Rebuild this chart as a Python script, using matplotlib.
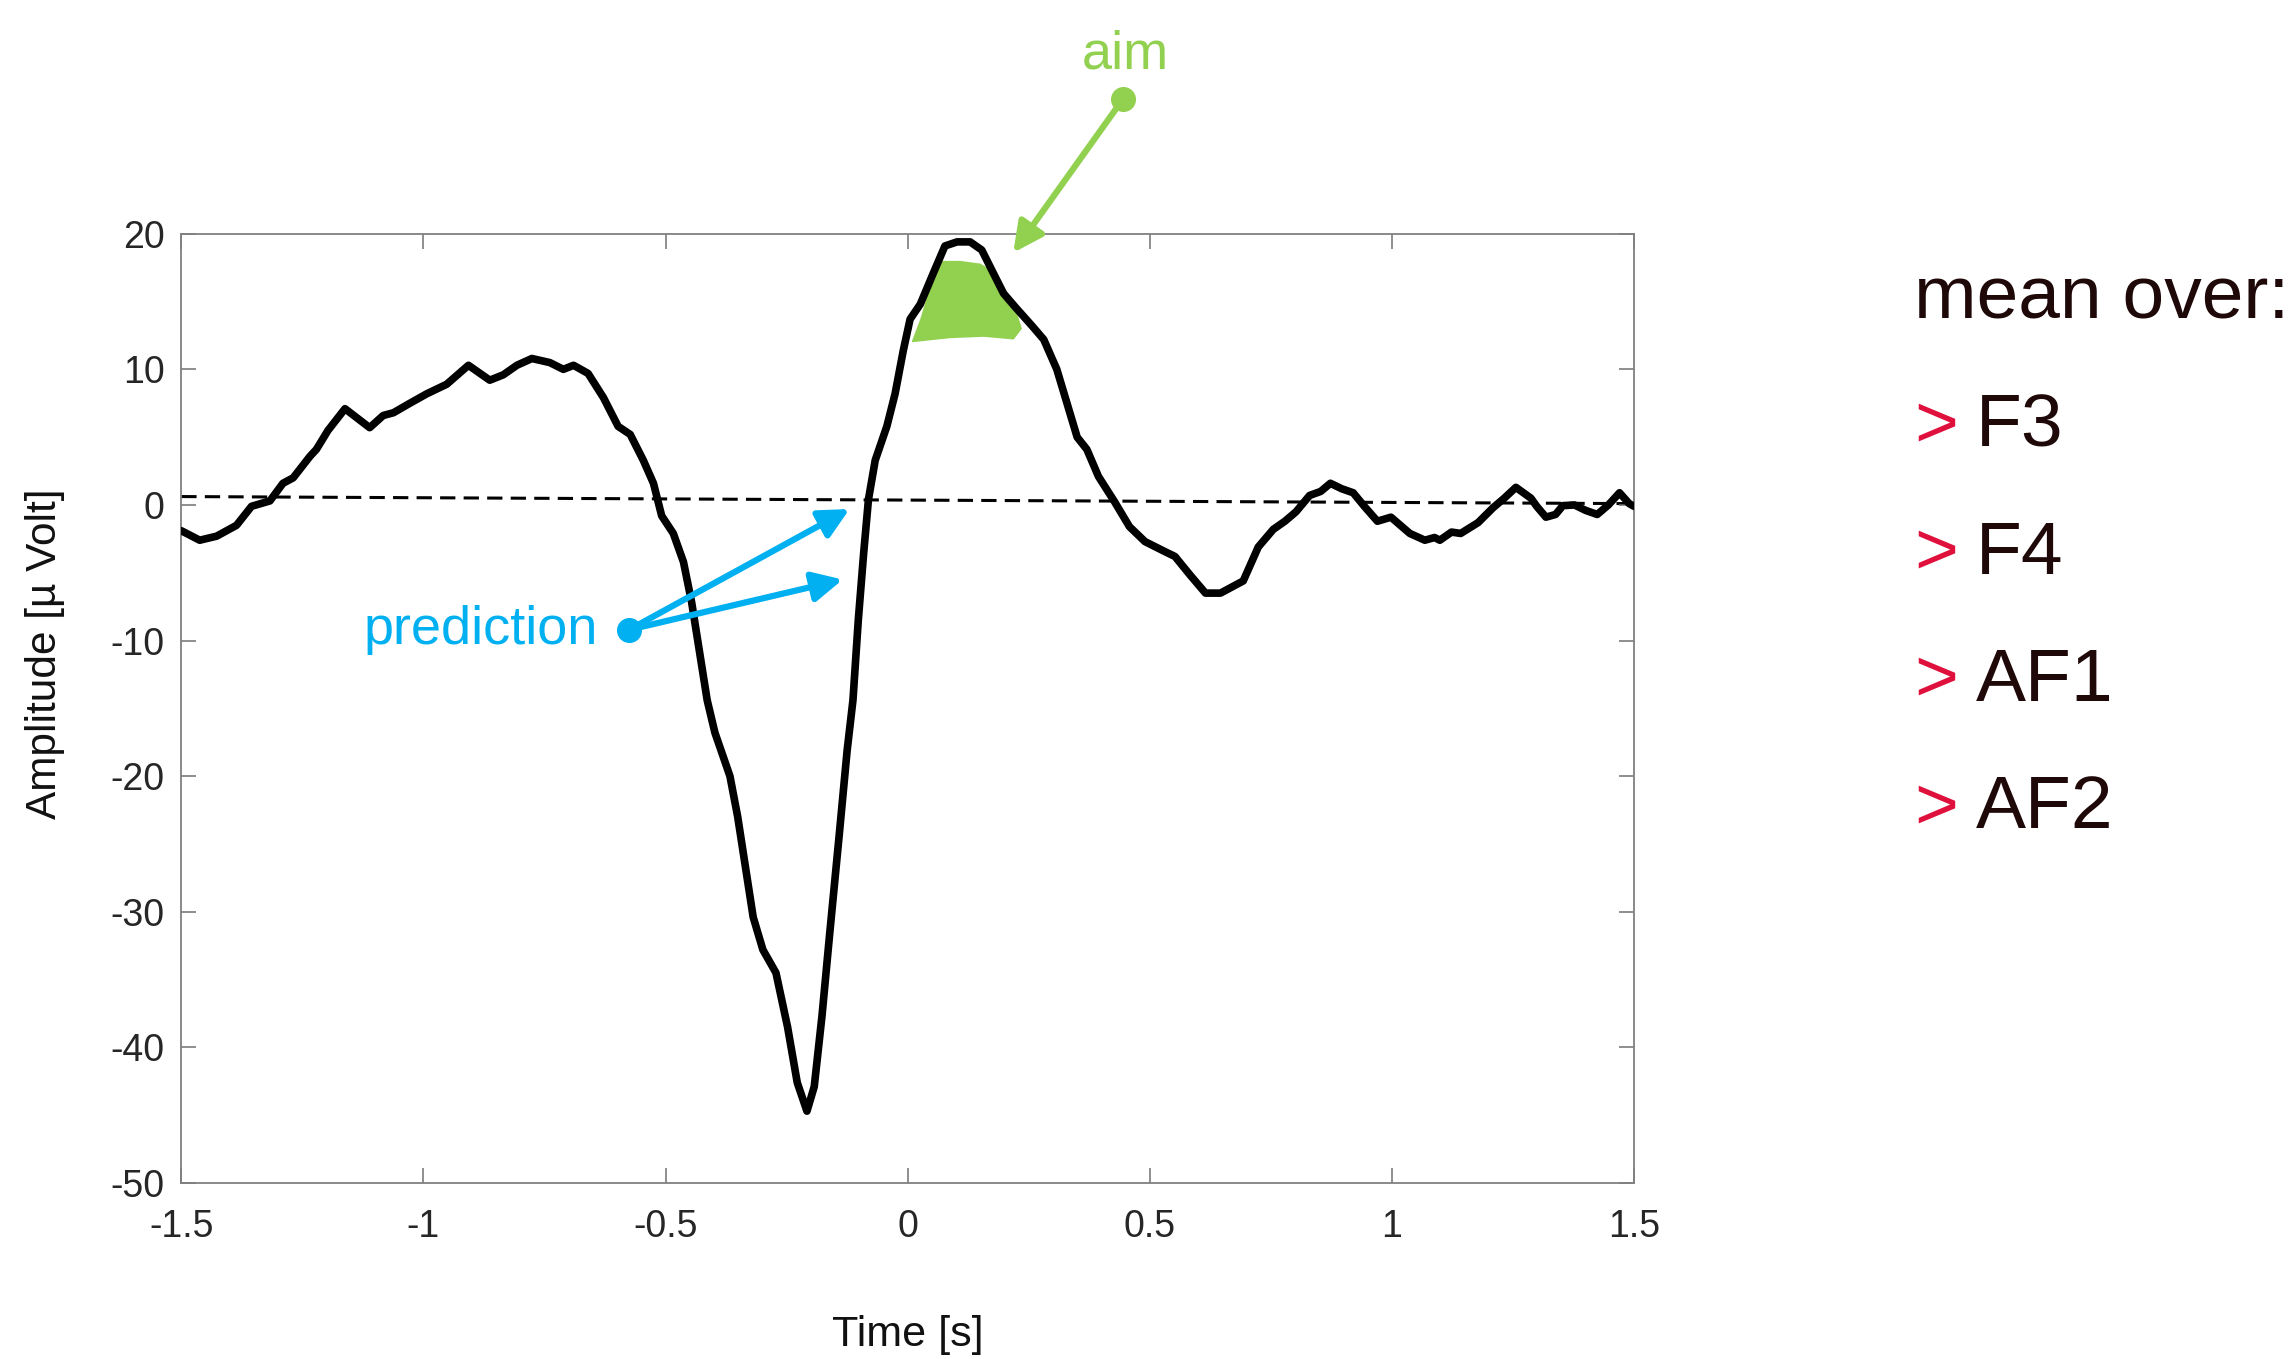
import numpy as np
import matplotlib
matplotlib.use("Agg")
import matplotlib.pyplot as plt

plt.rcParams["axes.unicode_minus"] = False

# mean ERP trace (time in s, amplitude in µV)
time = [-1.500, -1.462, -1.427, -1.386, -1.355, -1.317, -1.290, -1.269, -1.234, -1.221,
        -1.197, -1.162, -1.111, -1.083, -1.062, -1.028, -0.993, -0.952, -0.907, -0.863,
        -0.835, -0.807, -0.776, -0.739, -0.711, -0.690, -0.660, -0.628, -0.598, -0.573,
        -0.546, -0.525, -0.508, -0.484, -0.463, -0.446, -0.430, -0.414, -0.398, -0.367,
        -0.351, -0.335, -0.319, -0.299, -0.272, -0.248, -0.228, -0.208, -0.193, -0.177,
        -0.161, -0.141, -0.125, -0.113, -0.102, -0.091, -0.081, -0.067, -0.043, -0.026,
        -0.009, 0.005, 0.026, 0.053, 0.077, 0.102, 0.129, 0.153, 0.174, 0.198,
        0.222, 0.257, 0.281, 0.308, 0.329, 0.350, 0.370, 0.394, 0.427, 0.458,
        0.490, 0.529, 0.552, 0.584, 0.615, 0.646, 0.693, 0.724, 0.755, 0.779,
        0.802, 0.830, 0.853, 0.873, 0.896, 0.920, 0.943, 0.970, 0.998, 1.037,
        1.068, 1.088, 1.099, 1.123, 1.142, 1.178, 1.209, 1.232, 1.256, 1.287,
        1.299, 1.318, 1.338, 1.353, 1.377, 1.400, 1.424, 1.447, 1.470, 1.490,
        1.500]
amplitude = [-1.9, -2.6, -2.3, -1.5, -0.1, 0.3, 1.6, 2.0, 3.6, 4.1,
             5.5, 7.1, 5.7, 6.6, 6.8, 7.5, 8.2, 8.9, 10.3, 9.2,
             9.6, 10.3, 10.8, 10.5, 10.0, 10.3, 9.7, 7.9, 5.8, 5.2,
             3.3, 1.6, -0.8, -2.1, -4.2, -7.2, -10.8, -14.4, -16.8, -20.0,
             -23.0, -26.7, -30.4, -32.8, -34.5, -38.5, -42.6, -44.7, -42.9, -37.7,
             -31.6, -24.2, -18.1, -14.4, -8.5, -3.6, 0.4, 3.3, 5.8, 8.2,
             11.4, 13.7, 14.8, 17.1, 19.1, 19.4, 19.4, 18.8, 17.3, 15.6,
             14.6, 13.2, 12.2, 10.0, 7.5, 5.0, 4.1, 2.1, 0.25, -1.6,
             -2.7, -3.4, -3.8, -5.2, -6.5, -6.5, -5.6, -3.1, -1.8, -1.2,
             -0.5, 0.7, 1.0, 1.6, 1.2, 0.9, -0.1, -1.2, -0.9, -2.1,
             -2.6, -2.4, -2.6, -2.0, -2.1, -1.3, -0.2, 0.5, 1.3, 0.5,
             -0.1, -0.9, -0.7, -0.05, 0.0, -0.4, -0.7, 0.0, 0.9, 0.1,
             -0.1]

# dashed baseline
baseline_t = [-1.5, 1.5]
baseline_y = [0.62, 0.1]

# green "aim" patch
aim_t = [0.009, 0.026, 0.053, 0.067, 0.108, 0.150, 0.184, 0.201, 0.222, 0.236, 0.219, 0.157, 0.088, 0.009]
aim_y = [12.1, 13.7, 16.9, 18.0, 18.0, 17.8, 17.1, 15.4, 14.6, 13.0, 12.2, 12.4, 12.3, 12.0]

xticks = [-1.5, -1, -0.5, 0, 0.5, 1, 1.5]
xticklabels = ["-1.5", "-1", "-0.5", "0", "0.5", "1", "1.5"]
yticks = [-50, -40, -30, -20, -10, 0, 10, 20]

channels = ["F3", "F4", "AF1", "AF2"]

green = "#92d050"
blue = "#00b0f0"
red = "#e0103c"
dark = "#1f0808"

regular = ["Liberation Sans", "DejaVu Sans"]

fig = plt.figure(figsize=(22.95, 13.59), dpi=100)
ax = fig.add_axes([0.079, 0.1295, 0.633, 0.6985])

ax.fill(aim_t, aim_y, color=green, lw=0, zorder=2)
ax.plot(baseline_t, baseline_y, color="black", lw=2.2, ls=(0, (5, 2.7)), zorder=1)
ax.plot(time, amplitude, color="black", lw=5.5, solid_joinstyle="round",
        solid_capstyle="round", zorder=3)

ax.set_xlim(-1.5, 1.5)
ax.set_ylim(-50, 20)
ax.set_xticks(xticks)
ax.set_xticklabels(xticklabels)
ax.set_yticks(yticks)
ax.tick_params(direction="in", length=11, width=1.1, color="#707070",
               top=True, right=True, labelsize=27, labelcolor="#262626")
ax.tick_params(axis="x", pad=19)
ax.tick_params(axis="y", pad=12)
for lab in ax.get_xticklabels() + ax.get_yticklabels():
    lab.set_family(regular)
for s in ax.spines.values():
    s.set_color("#808080")
    s.set_linewidth(1.3)

ax.set_xlabel("Time [s]", family=regular, fontsize=31, color="#111111", va="center")
ax.xaxis.set_label_coords(0.5, -0.160)
ax.set_ylabel("Amplitude [µ Volt]", family=regular, fontsize=30.5, color="#111111", va="center")
ax.yaxis.set_label_coords(-0.0935, 0.558)

# prediction annotation
pred_dot = (-0.575, -9.2)
for tip in [(-0.120, -0.3), (-0.134, -5.5)]:
    ax.annotate("", xy=tip, xytext=pred_dot,
                arrowprops=dict(arrowstyle="-|>", color=blue, lw=4.5, mutation_scale=45,
                                shrinkA=0, shrinkB=0), zorder=5)
ax.plot(*pred_dot, "o", color=blue, ms=17, zorder=6)
ax.text(-0.64, -9.2, "prediction", color=blue, family=regular, fontsize=39,
        ha="right", va="center")

# aim annotation
aim_dot = (0.444, 29.9)
ax.annotate("", xy=(0.218, 18.6), xytext=aim_dot, annotation_clip=False,
            arrowprops=dict(arrowstyle="-|>", color=green, lw=4.5, mutation_scale=45,
                            shrinkA=0, shrinkB=0), zorder=5)
ax.plot(*aim_dot, "o", color=green, ms=17, zorder=6, clip_on=False)
ax.text(0.45, 33.2, "aim", color=green, family=regular, fontsize=39,
        ha="center", va="center", clip_on=False)

# channel list on the right
fig.text(0.834, 0.780, "mean over:", color=dark, family=regular, fontsize=54, va="center")
for i, ch in enumerate(channels):
    y = 0.686 - i * 0.0937
    fig.text(0.834, y, ">", color=red, family=regular, fontsize=54, va="center")
    fig.text(0.861, y, ch, color=dark, family=regular, fontsize=54, va="center")

fig.savefig("out.png", dpi=100)
